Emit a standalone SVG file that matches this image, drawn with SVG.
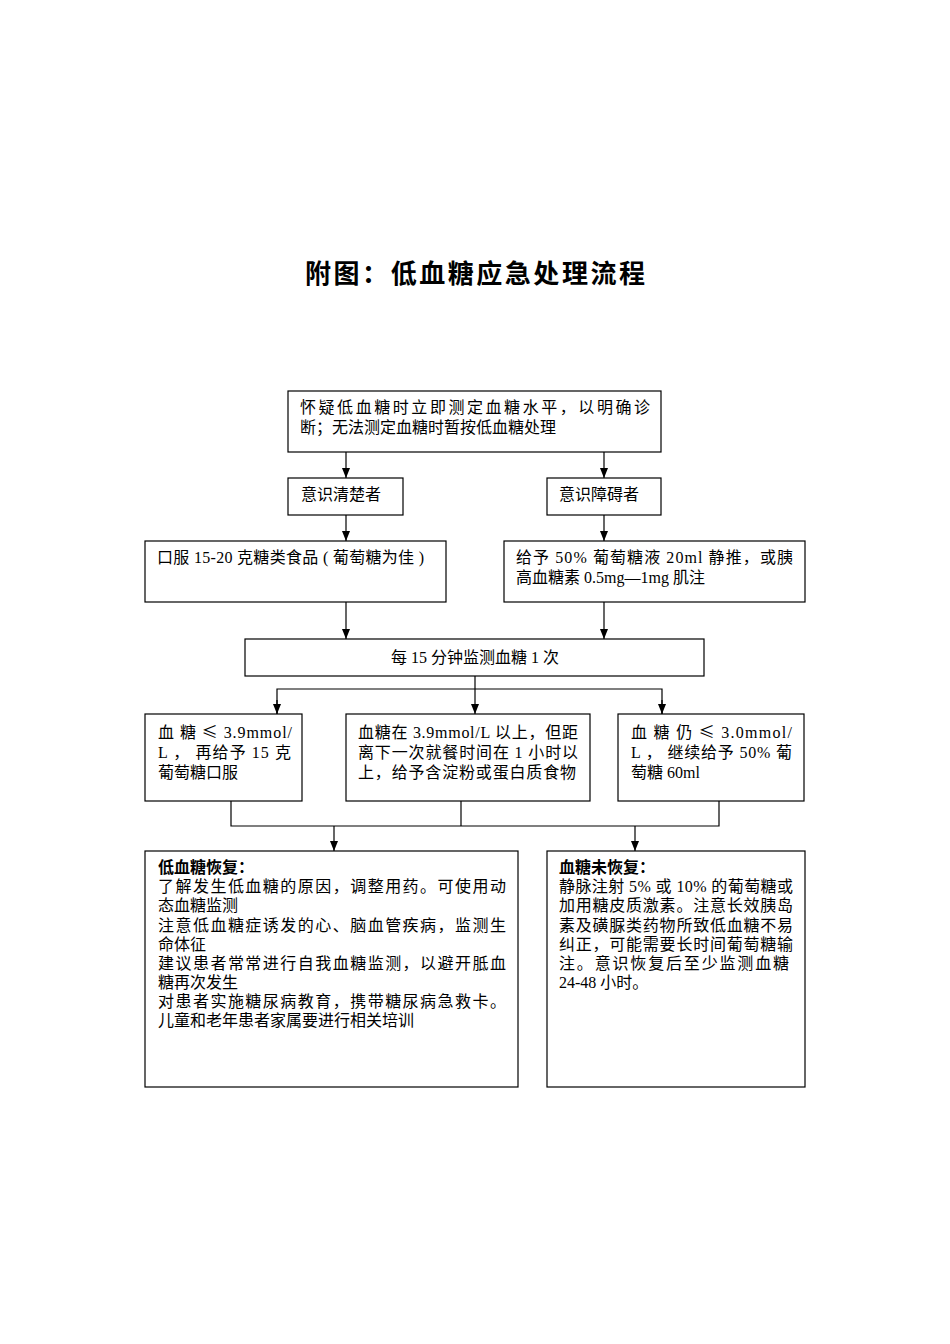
<svg xmlns="http://www.w3.org/2000/svg" width="950" height="1344" viewBox="0 0 950 1344">
<style>
.bx{fill:#fff;stroke:#000;stroke-width:1.2}
.t{font-family:"Liberation Serif","Noto Sans CJK SC",serif;font-size:16px;fill:#000}
.b{font-weight:bold}
.cj{font-family:"Noto Sans CJK SC",sans-serif}
.ttl{font-family:"Noto Sans CJK SC","Liberation Sans",sans-serif;font-size:26px;font-weight:bold;fill:#000}
.c{fill:none;stroke:#000;stroke-width:1.2}
</style>
<defs>
<marker id="ah" viewBox="0 0 10 8" refX="10" refY="4" markerWidth="10" markerHeight="8" markerUnits="userSpaceOnUse" orient="auto">
<path d="M0,0 L10,4 L0,8 z" fill="#000"/>
</marker>
</defs>
<rect width="950" height="1344" fill="#fff"/>
<text class="ttl" x="305" y="283" textLength="340">附图：低血糖应急处理流程</text>

<g id="connectors">
<line class="c" x1="346" y1="452" x2="346" y2="478" marker-end="url(#ah)"/>
<line class="c" x1="604" y1="452" x2="604" y2="478" marker-end="url(#ah)"/>
<line class="c" x1="346" y1="515" x2="346" y2="541" marker-end="url(#ah)"/>
<line class="c" x1="604" y1="515" x2="604" y2="541" marker-end="url(#ah)"/>
<line class="c" x1="346" y1="602" x2="346" y2="639" marker-end="url(#ah)"/>
<line class="c" x1="604" y1="602" x2="604" y2="639" marker-end="url(#ah)"/>
<line class="c" x1="475" y1="676" x2="475" y2="714" marker-end="url(#ah)"/>
<polyline class="c" points="277,714 277,689 662,689 662,714"/>
<line class="c" x1="277" y1="700" x2="277" y2="714" marker-end="url(#ah)"/>
<line class="c" x1="662" y1="700" x2="662" y2="714" marker-end="url(#ah)"/>
<polyline class="c" points="231,801 231,826 719,826 719,801"/>
<line class="c" x1="461" y1="801" x2="461" y2="826"/>
<line class="c" x1="334" y1="826" x2="334" y2="851" marker-end="url(#ah)"/>
<line class="c" x1="635" y1="826" x2="635" y2="851" marker-end="url(#ah)"/>
</g>

<g id="n-start">
<rect class="bx" x="288" y="391" width="373" height="61"/>
<text class="t" x="300" y="413" textLength="350">怀疑低血糖时立即测定血糖水平，以明确诊</text>
<text class="t" x="300" y="433">断；无法测定血糖时暂按低血糖处理</text>
</g>
<g id="n-conscious">
<rect class="bx" x="288" y="478" width="115" height="37"/>
<text class="t" x="301" y="500">意识清楚者</text>
</g>
<g id="n-impaired">
<rect class="bx" x="547" y="478" width="114" height="37"/>
<text class="t" x="559" y="500">意识障碍者</text>
</g>
<g id="n-oral">
<rect class="bx" x="145" y="541" width="301" height="61"/>
<text class="t" x="157" y="563" textLength="267">口服 15-20 克糖类食品 ( 葡萄糖为佳 )</text>
</g>
<g id="n-iv">
<rect class="bx" x="504" y="541" width="301" height="61"/>
<text class="t" x="516" y="563" textLength="277">给予 50% 葡萄糖液 20ml 静推，或胰</text>
<text class="t" x="516" y="583">高血糖素 0.5mg—1mg 肌注</text>
</g>
<g id="n-monitor">
<rect class="bx" x="245" y="639" width="459" height="37"/>
<text class="t" x="475" y="663" text-anchor="middle">每 15 分钟监测血糖 1 次</text>
</g>
<g id="n-low">
<rect class="bx" x="145" y="714" width="157" height="87"/>
<text class="t" x="158" y="738" textLength="134">血 糖 <tspan class="cj">≤</tspan> 3.9mmol/</text>
<text class="t" x="158" y="758" textLength="133">L ， 再给予 15 克</text>
<text class="t" x="158" y="778">葡萄糖口服</text>
</g>
<g id="n-mid">
<rect class="bx" x="346" y="714" width="244" height="87"/>
<text class="t" x="358" y="738" textLength="220">血糖在 3.9mmol/L 以上，但距</text>
<text class="t" x="358" y="758" textLength="220">离下一次就餐时间在 1 小时以</text>
<text class="t" x="358" y="778" textLength="218">上，给予含淀粉或蛋白质食物</text>
</g>
<g id="n-still">
<rect class="bx" x="618" y="714" width="186" height="87"/>
<text class="t" x="631" y="738" textLength="161">血 糖 仍 <tspan class="cj">≤</tspan> 3.0mmol/</text>
<text class="t" x="631" y="758" textLength="161">L ， 继续给予 50% 葡</text>
<text class="t" x="631" y="778">萄糖 60ml</text>
</g>
<g id="n-recovered">
<rect class="bx" x="145" y="851" width="373" height="236"/>
<text class="t b" x="158" y="873">低血糖恢复：</text>
<text class="t" x="158" y="892" textLength="348">了解发生低血糖的原因，调整用药。可使用动</text>
<text class="t" x="158" y="911">态血糖监测</text>
<text class="t" x="158" y="931" textLength="348">注意低血糖症诱发的心、脑血管疾病，监测生</text>
<text class="t" x="158" y="950">命体征</text>
<text class="t" x="158" y="969" textLength="348">建议患者常常进行自我血糖监测，以避开胝血</text>
<text class="t" x="158" y="988">糖再次发生</text>
<text class="t" x="158" y="1007" textLength="348">对患者实施糖尿病教育，携带糖尿病急救卡。</text>
<text class="t" x="158" y="1026">儿童和老年患者家属要进行相关培训</text>
</g>
<g id="n-notrecovered">
<rect class="bx" x="547" y="851" width="258" height="236"/>
<text class="t b" x="559" y="873">血糖未恢复：</text>
<text class="t" x="559" y="892" textLength="234">静脉注射 5% 或 10% 的葡萄糖或</text>
<text class="t" x="559" y="911" textLength="234">加用糖皮质激素。注意长效胰岛</text>
<text class="t" x="559" y="931" textLength="234">素及磺脲类药物所致低血糖不易</text>
<text class="t" x="559" y="950" textLength="234">纠正，可能需要长时间葡萄糖输</text>
<text class="t" x="559" y="969" textLength="230">注。意识恢复后至少监测血糖</text>
<text class="t" x="559" y="988">24-48 小时。</text>
</g>
</svg>
